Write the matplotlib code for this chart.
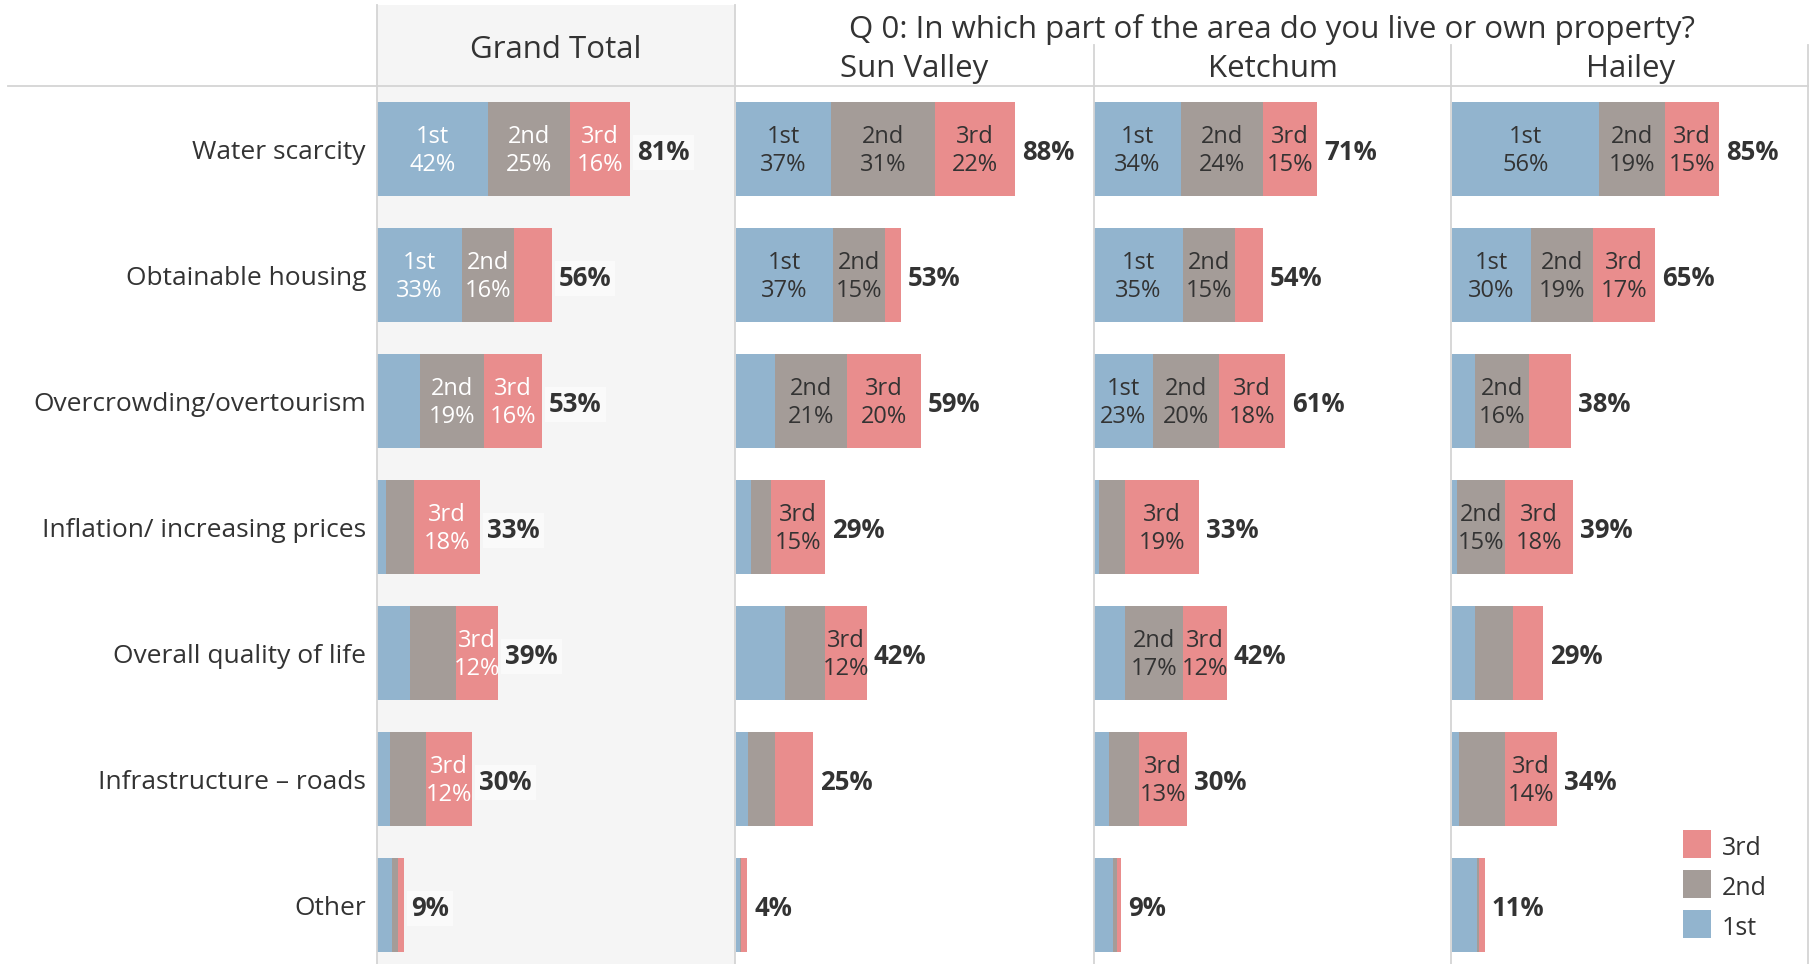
import matplotlib
matplotlib.use("Agg")
import matplotlib.pyplot as plt
from matplotlib.patches import Rectangle
from matplotlib.lines import Line2D

plt.rcParams['font.family'] = ['Open Sans', 'DejaVu Sans']

categories = ["Water scarcity", "Obtainable housing", "Overcrowding/overtourism",
              "Inflation/ increasing prices", "Overall quality of life",
              "Infrastructure \u2013 roads", "Other"]
panels = ["Grand Total", "Sun Valley", "Ketchum", "Hailey"]
ranks = ["1st", "2nd", "3rd"]
title = "Q 0: In which part of the area do you live or own property?"

# bar lengths (share of each rank's responses)
gt_1st = [42.4, 32.4, 16.4, 3.4, 12.6, 5.0, 5.7]
gt_2nd = [31.3, 19.8, 24.4, 10.7, 17.6, 13.7, 2.3]
gt_3rd = [22.9, 14.5, 22.1, 25.2, 16.0, 17.6, 2.3]
sv_1st = [36.3, 37.0, 14.9, 5.7, 18.7, 4.6, 1.5]
sv_2nd = [39.7, 19.8, 27.5, 7.6, 15.3, 10.3, 0.4]
sv_3rd = [30.5, 6.1, 28.2, 20.6, 16.0, 14.5, 2.3]
ke_1st = [33.2, 34.0, 22.5, 1.9, 11.8, 5.7, 7.3]
ke_2nd = [31.3, 19.8, 25.2, 9.9, 22.1, 11.5, 1.5]
ke_3rd = [20.6, 10.7, 25.2, 28.2, 16.8, 18.3, 1.5]
ha_1st = [56.1, 30.2, 8.8, 1.9, 8.8, 2.7, 9.5]
ha_2nd = [25.2, 23.7, 20.6, 18.3, 14.5, 17.6, 0.8]
ha_3rd = [20.6, 23.7, 16.0, 26.0, 11.5, 19.8, 2.3]

# percent labels shown inside segments (None = not shown)
gt_lab_1st = [42, 33, None, None, None, None, None]
gt_lab_2nd = [25, 16, 19, None, None, None, None]
gt_lab_3rd = [16, None, 16, 18, 12, 12, None]
sv_lab_1st = [37, 37, None, None, None, None, None]
sv_lab_2nd = [31, 15, 21, None, None, None, None]
sv_lab_3rd = [22, None, 20, 15, 12, None, None]
ke_lab_1st = [34, 35, 23, None, None, None, None]
ke_lab_2nd = [24, 15, 20, None, 17, None, None]
ke_lab_3rd = [15, None, 18, 19, 12, 13, None]
ha_lab_1st = [56, 30, None, None, None, None, None]
ha_lab_2nd = [19, 19, 16, 15, None, None, None]
ha_lab_3rd = [15, 17, None, 18, None, 14, None]

# total percent of respondents naming the issue in top 3
gt_total = [81, 56, 53, 33, 39, 30, 9]
sv_total = [88, 53, 59, 29, 42, 25, 4]
ke_total = [71, 54, 61, 33, 42, 30, 9]
ha_total = [85, 65, 38, 39, 29, 34, 11]

colors = {"1st": "#92b4ce", "2nd": "#a49c98", "3rd": "#e98d8d"}
dark = "#333333"
line_c = "#d4d4d4"

panel_bars = [(gt_1st, gt_2nd, gt_3rd), (sv_1st, sv_2nd, sv_3rd),
              (ke_1st, ke_2nd, ke_3rd), (ha_1st, ha_2nd, ha_3rd)]
panel_labs = [(gt_lab_1st, gt_lab_2nd, gt_lab_3rd), (sv_lab_1st, sv_lab_2nd, sv_lab_3rd),
              (ke_lab_1st, ke_lab_2nd, ke_lab_3rd), (ha_lab_1st, ha_lab_2nd, ha_lab_3rd)]
panel_tot = [gt_total, sv_total, ke_total, ha_total]

W, H = 1813, 964
fig = plt.figure(figsize=(W / 100, H / 100), dpi=100)

def fx(px):
    return px / W

def fy(py):
    return 1 - py / H

def pt(px):
    return px * 0.72

header_y = 86
band = 126
lefts = [377, 736, 1094, 1452]
pw = 357
px_per_unit = 2.62

# grand total grey background (header + panel)
fig.add_artist(Rectangle((fx(377), fy(H)), fx(358), fy(5) - fy(H),
                         transform=fig.transFigure, facecolor="#f5f5f5",
                         edgecolor="none", zorder=0))

ymax = (H - header_y) / band - 0.5
for p, left in enumerate(lefts):
    ax = fig.add_axes([fx(left), fy(H), fx(pw), fy(header_y) - fy(H)])
    ax.set_facecolor("none")
    ax.set_xlim(0, pw / px_per_unit)
    ax.set_ylim(ymax, -0.5)
    ax.axis("off")
    ys = list(range(len(categories)))
    starts = [0.0] * len(categories)
    txt_c = "white" if p == 0 else dark
    for r, rank in enumerate(ranks):
        vals = panel_bars[p][r]
        ax.barh(ys, vals, left=starts, height=94 / band, color=colors[rank],
                edgecolor="none")
        for i, lab in enumerate(panel_labs[p][r]):
            if lab is not None:
                cx = starts[i] + vals[i] / 2
                ax.annotate(rank, (cx, i), xytext=(0, pt(6)),
                            textcoords="offset points", ha="center",
                            va="baseline", fontsize=17, color=txt_c)
                ax.annotate(f"{lab}%", (cx, i), xytext=(0, -pt(22)),
                            textcoords="offset points", ha="center",
                            va="baseline", fontsize=17, color=txt_c)
        starts = [s + v for s, v in zip(starts, vals)]
    for i, tot in enumerate(panel_tot[p]):
        kw = {}
        if p == 0:
            kw["bbox"] = dict(facecolor="#fafafa", edgecolor="none", pad=3)
        ax.annotate(f"{tot}%", (starts[i], i), xytext=(pt(7), -pt(11)),
                    textcoords="offset points", ha="left", va="baseline",
                    fontsize=18.5, fontweight="bold", color=dark, **kw)

# row labels
for i, cat in enumerate(categories):
    fig.text(fx(366), fy(header_y + band * (i + 0.5) + 10), cat, ha="right",
             va="baseline", fontsize=19, color=dark)

# headers
fig.text(fx(556), fy(58), "Grand Total", ha="center", va="baseline",
         fontsize=22.5, color=dark)
fig.text(fx(1272), fy(38), title, ha="center", va="baseline", fontsize=22.5,
         color=dark)
for name, left in zip(panels[1:], lefts[1:]):
    fig.text(fx(left + pw / 2), fy(77), name, ha="center", va="baseline",
             fontsize=22.5, color=dark)

# grid lines
fig.add_artist(Line2D([fx(8), fx(1808)], [fy(header_y), fy(header_y)],
                      transform=fig.transFigure, color=line_c, lw=1.3))
for x, y0 in [(377, 5), (735, 5), (1094, 45), (1451, 45), (1808, 45)]:
    fig.add_artist(Line2D([fx(x), fx(x)], [fy(y0), fy(H)],
                          transform=fig.transFigure, color=line_c, lw=1.3))

# legend
for k, rank in enumerate(["3rd", "2nd", "1st"]):
    top = 830 + 40 * k
    fig.add_artist(Rectangle((fx(1683), fy(top + 28)), fx(28), fy(top) - fy(top + 28),
                             transform=fig.transFigure, facecolor=colors[rank],
                             edgecolor="none"))
    fig.text(fx(1722), fy(top + 25), rank, ha="left", va="baseline",
             fontsize=18, color=dark)

fig.savefig("out.png", dpi=100)
